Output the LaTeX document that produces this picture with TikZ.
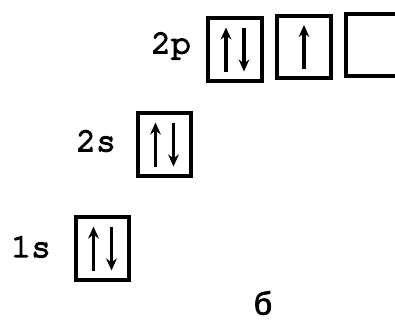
\documentclass[tikz,border=0pt]{standalone}
\usepackage{fontspec}
\setmonofont[FakeBold=4.5]{TeX Gyre Cursor}
\newfontfamily\cyrmono[FakeBold=2.5]{Liberation Mono}
\usetikzlibrary{arrows.meta, calc}

\begin{document}
\begin{tikzpicture}[
    x=0.75pt, y=-0.75pt,
    font=\ttfamily\fontsize{25}{28}\selectfont,
    orbital/.style={
        draw=black,
        line width=2.8pt,
        minimum width=40pt,
        minimum height=47pt,
        inner sep=0pt
    },
    level/.style={anchor=center, inner sep=0pt},
    spin/.style={line width=2.4pt, -{Stealth[length=9pt, width=8pt]}}
]
\useasboundingbox (0,0) rectangle (395,329);
\clip (0,0) rectangle (395,329);

% 1s level
\node[level] (l1s) at (31,247) {1s};
\node[orbital] (o1s) at (102.5,248.5) {};

% 2s level
\node[level] (l2s) at (96,141) {2s};
\node[orbital] (o2s) at (164.5,144.5) {};

% 2p level
\node[level] (l2p) at (171,46) {2p};
\node[orbital] (o2p1) at (235,49.5) {};
\node[orbital] (o2p2) at (304,47) {};
\node[orbital] (o2p3) at (373,45) {};

% electrons
\foreach \o in {o1s, o2s, o2p1} {
    \draw[spin] ($(\o.center)+(-9,22)$) -- ($(\o.center)+(-9,-22)$);
    \draw[spin] ($(\o.center)+(9,-22)$) -- ($(\o.center)+(9,22)$);
}
\draw[spin] ($(o2p2.center)+(0,22)$) -- ($(o2p2.center)+(0,-22)$);

% caption
\node[level, font=\cyrmono\fontsize{24}{28}\selectfont] (cap) at (263,303) {б};
\end{tikzpicture}
\end{document}
